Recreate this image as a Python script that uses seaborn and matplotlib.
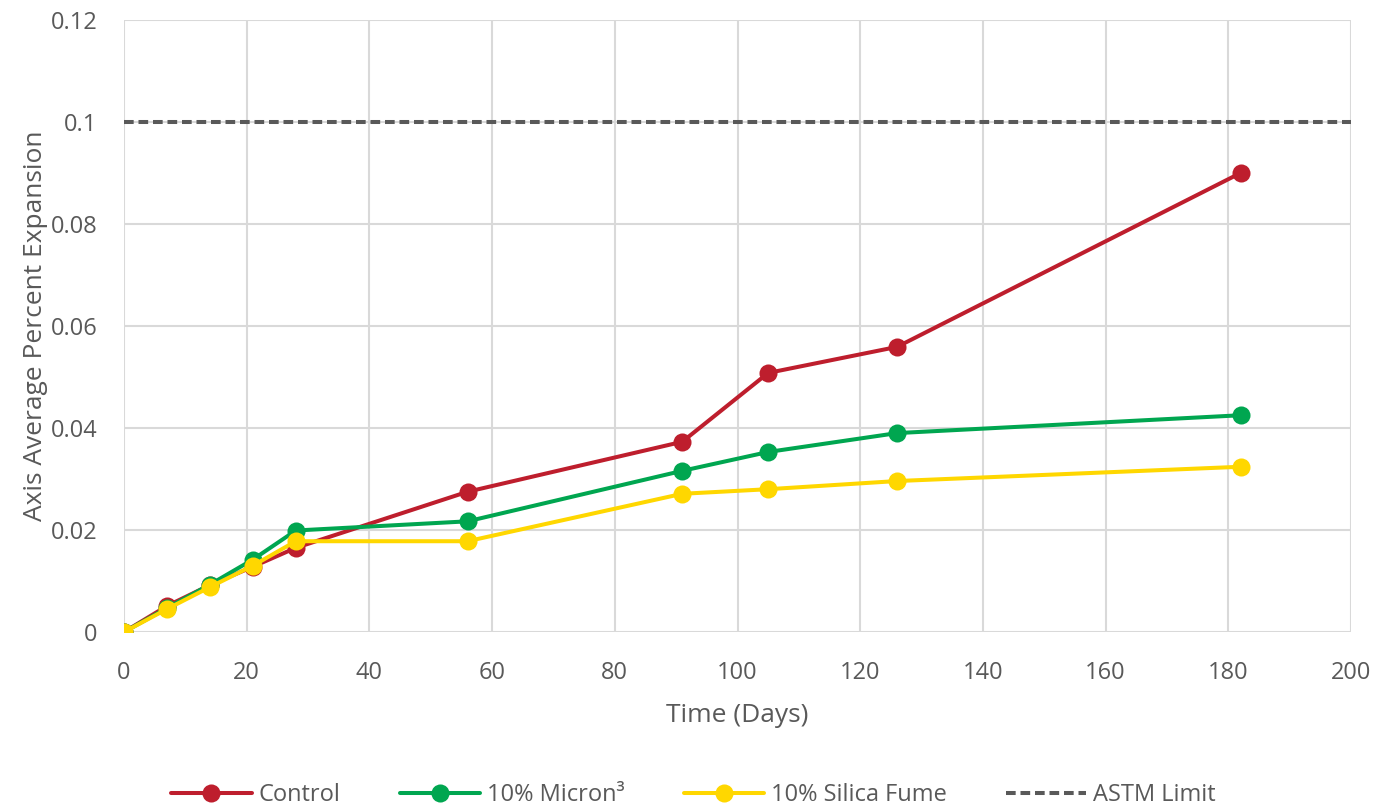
import pandas as pd
import matplotlib.pyplot as plt
import seaborn as sns
from matplotlib.lines import Line2D

# 数据
days = [0, 7, 14, 21, 28, 56, 91, 105, 126, 182]
control = [0, 0.0051, 0.0092, 0.0128, 0.0165, 0.0275, 0.0373, 0.0508, 0.0559, 0.0900]
micron = [0, 0.0047, 0.0093, 0.0142, 0.0199, 0.0217, 0.0316, 0.0353, 0.0390, 0.0425]
silica = [0, 0.0045, 0.0088, 0.0130, 0.0178, 0.0178, 0.0271, 0.0280, 0.0296, 0.0324]
astm_limit = 0.1
series_names = ['Control', '10% Micron³', '10% Silica Fume']
colors = ['#BE1E2D', '#00A650', '#FFD700']

df = pd.concat([
    pd.DataFrame({'Days': days, 'Expansion': vals, 'Mix': name})
    for name, vals in zip(series_names, [control, micron, silica])
])

sns.set_style('white')
plt.rcParams['font.family'] = ['Open Sans', 'DejaVu Sans']
text_color = '#595959'
lw = 2.9
dash = (0, (2.4, 1.2))

fig = plt.figure(figsize=(13.87, 8.08), dpi=100)
ax = fig.add_axes([124 / 1387, 1 - 632 / 808, (1351 - 124) / 1387, (632 - 20) / 808])

sns.lineplot(data=df, x='Days', y='Expansion', hue='Mix', palette=colors,
             marker='o', markersize=13, markeredgewidth=0, linewidth=lw,
             legend=False, ax=ax, zorder=3)
ax.axhline(astm_limit, color=text_color, linestyle=dash, linewidth=lw, zorder=2)

ax.set_xlim(0, 200)
ax.set_ylim(0, 0.12)
ax.set_xticks(range(0, 201, 20))
ax.set_yticks([0, 0.02, 0.04, 0.06, 0.08, 0.1, 0.12])
ax.set_yticklabels(['0', '0.02', '0.04', '0.06', '0.08', '0.1', '0.12'])
ax.grid(True, color='#d9d9d9', linewidth=1.5)
for s in ax.spines.values():
    s.set_visible(False)
ax.tick_params(length=0, labelsize=17, labelcolor=text_color)
ax.tick_params(axis='x', pad=21)
ax.tick_params(axis='y', pad=19)
ax.set_xlabel('Time (Days)', fontsize=19, color=text_color, labelpad=13)
ax.set_ylabel('Axis Average Percent Expansion', fontsize=19, color=text_color, labelpad=2)

handles = [Line2D([0], [0], color=c, marker='o', markersize=13, markeredgewidth=0, linewidth=lw)
           for c in colors]
handles.append(Line2D([0], [0], color=text_color, linestyle=dash, linewidth=lw))
fig.legend(handles, series_names + ['ASTM Limit'], loc='center', bbox_to_anchor=(0.5, 1 - 795 / 808),
           ncol=4, frameon=False, fontsize=17, labelcolor=text_color, handlelength=3.4,
           columnspacing=2.5, handletextpad=0.3)

plt.savefig('out.png', dpi=100)
plt.close()
